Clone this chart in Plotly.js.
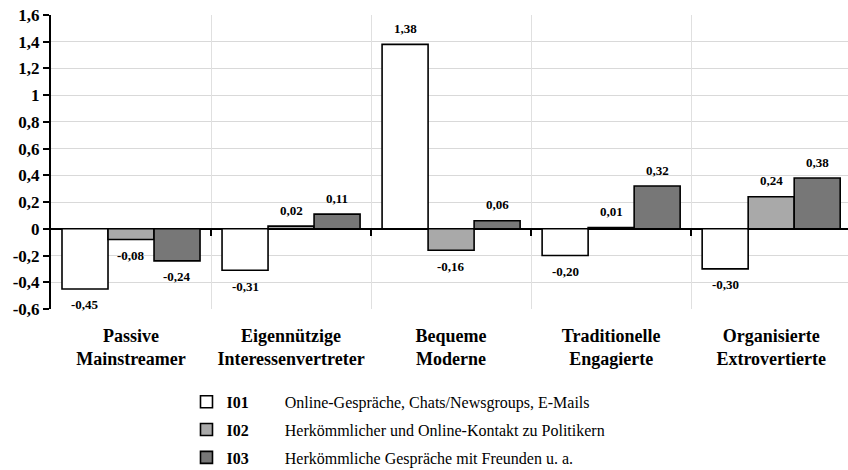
<!DOCTYPE html>
<html>
<head>
<meta charset="utf-8">
<script src="https://cdn.plot.ly/plotly-3.0.1.min.js"></script>
<style>html,body{margin:0;padding:0;background:#fff;}#chart{width:848px;height:470px;}</style>
</head>
<body>
<div id="chart"></div>
<script>
const categories = ["Passive<br>Mainstreamer", "Eigennützige<br>Interessenvertreter", "Bequeme<br>Moderne", "Traditionelle<br>Engagierte", "Organisierte<br>Extrovertierte"];
const seriesIds = ["I01", "I02", "I03"];
const seriesNames = ["Online-Gespräche, Chats/Newsgroups, E-Mails", "Herkömmlicher und Online-Kontakt zu Politikern", "Herkömmliche Gespräche mit Freunden u. a."];
const seriesColors = ["#ffffff", "#a9a9a9", "#777777"];
const valuesI01 = [-0.45, -0.31, 1.38, -0.20, -0.30];
const valuesI02 = [-0.08, 0.02, -0.16, 0.01, 0.24];
const valuesI03 = [-0.24, 0.11, 0.06, 0.32, 0.38];
const yTickVals = [-0.6, -0.4, -0.2, 0, 0.2, 0.4, 0.6, 0.8, 1, 1.2, 1.4, 1.6];
const yTickText = ["-0,6", "-0,4", "-0,2", "0", "0,2", "0,4", "0,6", "0,8", "1", "1,2", "1,4", "1,6"];

const allValues = [valuesI01, valuesI02, valuesI03];
const xIdx = categories.map((c, i) => i);
const FONT = "Liberation Serif, Times New Roman, serif";
const barW = 0.2875;
const gap = "\u00a0".repeat(9);

const traces = allValues.map((vals, j) => ({
  type: "bar",
  x: xIdx,
  y: vals,
  name: "<b>" + seriesIds[j] + "</b>" + gap + seriesNames[j],
  legendgroup: seriesIds[j],
  marker: {color: seriesColors[j], line: {color: "#000", width: 1.6}},
  hoverinfo: "skip"
}));

const fmt = v => v.toFixed(2).replace(".", ",");
const annotations = [];
allValues.forEach((vals, j) => {
  vals.forEach((v, i) => {
    annotations.push({
      x: i + (j - 1) * barW,
      y: v,
      xref: "x", yref: "y",
      text: "<b>" + fmt(v) + "</b>",
      showarrow: false,
      yshift: v >= 0 ? 16 : -16,
      font: {family: FONT, size: 13, color: "#000"}
    });
  });
});

const layout = {
  width: 848, height: 470,
  margin: {l: 51, r: 0, t: 15, b: 161, autoexpand: false},
  paper_bgcolor: "#fff", plot_bgcolor: "#fff",
  font: {family: FONT, color: "#000"},
  barmode: "group",
  bargap: 0.1375,
  bargroupgap: 0,
  showlegend: true,
  legend: {
    x: 0.17, y: -0.258, xanchor: "left", yanchor: "top",
    orientation: "v",
    traceorder: "grouped",
    tracegroupgap: 4,
    font: {family: FONT, size: 16, color: "#000"},
    bgcolor: "rgba(0,0,0,0)"
  },
  xaxis: {
    range: [-0.5, 4.48],
    tickvals: xIdx,
    ticktext: categories,
    showgrid: false, zeroline: false, showline: false,
    ticks: "",
    ticklabelstandoff: 14,
    tickfont: {family: FONT, size: 18, color: "#000", weight: "bold"},
    fixedrange: true
  },
  xaxis2: {
    overlaying: "x",
    matches: "x",
    anchor: "free",
    position: 0.6 / 2.2,
    side: "bottom",
    tickvals: [0.5, 1.5, 2.5, 3.5],
    showticklabels: false,
    ticks: "outside", ticklen: 6, tickwidth: 2, tickcolor: "#000",
    showgrid: true, gridcolor: "#e0e0e0", gridwidth: 1,
    zeroline: false, showline: false
  },
  yaxis: {
    range: [-0.6, 1.6],
    tickvals: yTickVals,
    ticktext: yTickText,
    showgrid: true, gridcolor: "#d9d9d9", gridwidth: 1,
    zeroline: true, zerolinecolor: "#000", zerolinewidth: 2,
    showline: true, linecolor: "#000", linewidth: 2,
    ticks: "outside", ticklen: 6, tickwidth: 2, tickcolor: "#000",
    tickfont: {family: FONT, size: 17, color: "#000", weight: "bold"},
    fixedrange: true
  },
  annotations: annotations
};

traces.push({type: "scatter", x: [0], y: [0], xaxis: "x2", yaxis: "y", mode: "markers", marker: {opacity: 0}, showlegend: false, hoverinfo: "skip"});

Plotly.newPlot("chart", traces, layout, {staticPlot: true, displayModeBar: false});
</script>
</body>
</html>
